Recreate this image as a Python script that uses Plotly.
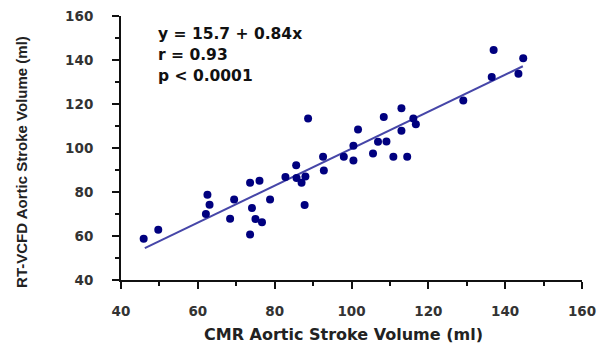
import plotly.graph_objects as go

# CMR aortic stroke volume (x) vs RT-VCFD aortic stroke volume (y), ml
cmr_sv = [45.9, 49.7, 62.5, 63.05, 62.1, 69.45, 68.4, 73.6, 76.05, 74.1, 75.0, 76.7, 78.8, 73.6,
          88.7, 87.8, 82.8, 85.6, 85.7, 87.0, 88.0, 92.6, 92.8, 98.0, 100.5, 100.5, 101.7, 105.6,
          106.9, 108.4, 109.1, 110.9, 113.0, 113.0, 114.5, 116.1, 116.75, 137.0, 144.7, 136.5,
          143.45, 129.1]
rt_sv = [58.75, 62.8, 78.7, 74.2, 70.0, 76.6, 67.8, 84.2, 85.1, 72.7, 67.7, 66.2, 76.6, 60.7,
         113.4, 74.05, 86.8, 92.2, 86.4, 84.2, 87.1, 96.0, 89.8, 96.0, 101.0, 94.35, 108.4, 97.5,
         102.8, 114.1, 103.0, 96.0, 118.1, 107.8, 96.0, 113.4, 110.8, 144.6, 140.8, 132.3,
         133.7, 121.6]

intercept = 15.7
slope = 0.84
fit_x = [46.2, 144.6]
fit_y = [intercept + slope * v for v in fit_x]

tick_vals = [40, 60, 80, 100, 120, 140, 160]
tick_text = [str(v) for v in tick_vals]

stats_lines = ["y = 15.7 + 0.84x", "r = 0.93", "p < 0.0001"]

fig = go.Figure()
fig.add_trace(go.Scatter(x=fit_x, y=fit_y, mode="lines",
                         line=dict(color="#4646a8", width=2), showlegend=False))
fig.add_trace(go.Scatter(x=cmr_sv, y=rt_sv, mode="markers",
                         marker=dict(color="#00007f", size=8, line=dict(width=0)),
                         showlegend=False))

font_family = "DejaVu Sans"
axis_common = dict(
    range=[40, 160], tickvals=tick_vals, ticktext=tick_text, automargin=False,
    showgrid=False, zeroline=False, showline=True, linecolor="#111", linewidth=2,
    ticks="outside", ticklen=7, tickwidth=2, tickcolor="#111",
    minor=dict(ticks="outside", ticklen=4, tickwidth=1.5, tickcolor="#111", dtick=10, showgrid=False),
    tickfont=dict(family=font_family, size=13.5, color="#333", weight="bold"),
)
fig.update_xaxes(**axis_common, ticklabelstandoff=11)
fig.update_yaxes(**axis_common, ticklabelstandoff=16)

for i, line in enumerate(stats_lines):
    fig.add_annotation(x=0.075, y=0.932 - i * 0.08, xref="paper", yref="paper",
                       text=line, showarrow=False, xanchor="left", yanchor="middle",
                       font=dict(family=font_family, size=15.5, color="#111", weight="bold"))

fig.add_annotation(x=(343 - 121) / 461, y=-0.205, xref="paper", yref="paper",
                   text="CMR Aortic Stroke Volume (ml)", showarrow=False,
                   xanchor="center", yanchor="middle",
                   font=dict(family=font_family, size=16, color="#222", weight="bold"))
fig.add_annotation(x=-0.215, y=0.447, xref="paper", yref="paper",
                   text="RT-VCFD Aortic Stroke Volume (ml)", showarrow=False, textangle=-90,
                   xanchor="center", yanchor="middle",
                   font=dict(family="Liberation Sans Narrow, Liberation Sans", size=15, color="#222", weight="bold"))

fig.update_layout(width=598, height=347, margin=dict(l=121, r=16, t=16, b=67, autoexpand=False),
                  plot_bgcolor="white", paper_bgcolor="white")

# remove the default page margin so the figure fills the 598x347 window exactly
fig.write_html("out.html", config={"displayModeBar": False},
               post_script="document.body.style.margin='0px';document.body.style.overflow='hidden';")
